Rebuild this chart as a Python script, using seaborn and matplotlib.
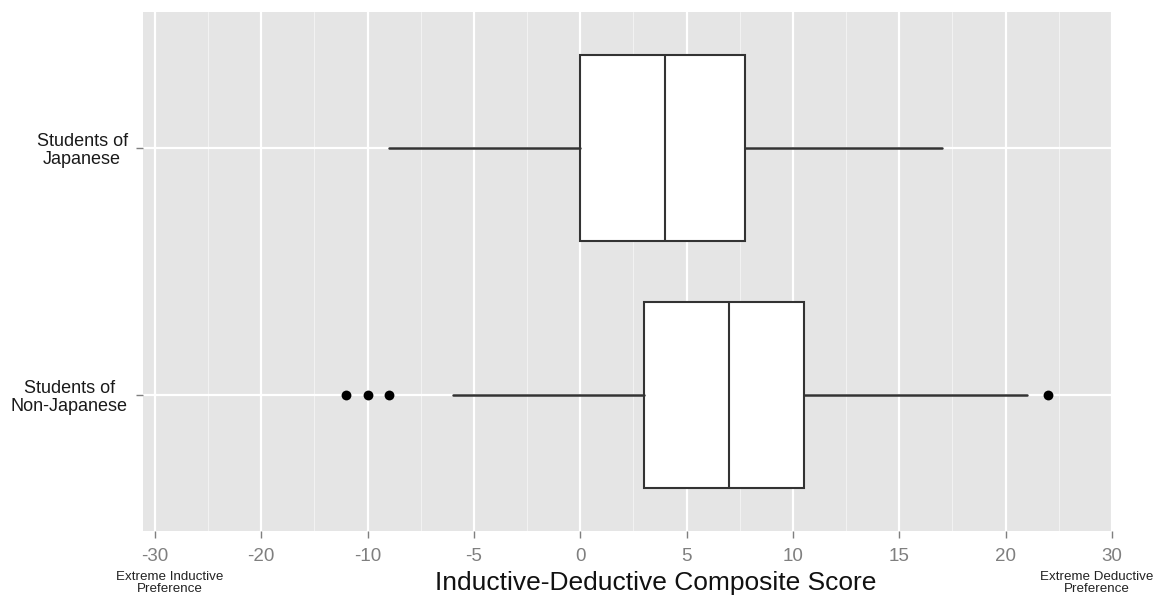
import matplotlib
matplotlib.use("Agg")
import matplotlib.pyplot as plt
import seaborn as sns
import pandas as pd

# ---- data ----
groups = ["Students of\nJapanese", "Students of\nNon-Japanese"]
q1 = [0.0, 3.0]
median = [4.0, 7.0]
q3 = [7.75, 10.5]
whisker_low = [-9.0, -6.0]
whisker_high = [17.0, 21.0]
outlier_group = ["Students of\nNon-Japanese"] * 4
outlier_values = [-11.0, -10.0, -9.0, 22.0]
tick_values = [-20, -15, -10, -5, 0, 5, 10, 15, 20, 25]
tick_labels = ["-30", "-20", "-10", "-5", "0", "5", "10", "15", "20", "30"]
x_title = "Inductive-Deductive Composite Score"
left_note = "Extreme Inductive\nPreference"
right_note = "Extreme Deductive\nPreference"

sns.set_theme(style="darkgrid")
plt.rcParams["font.family"] = ["Liberation Sans", "DejaVu Sans"]

W, H = 1157, 598
fig = plt.figure(figsize=(W / 100, H / 100), dpi=100)
ax = fig.add_axes([143 / W, (H - 531) / H, (1113 - 143) / W, (531 - 12) / H])
ax.set_facecolor("#E5E5E5")

ypos = {g: i for i, g in enumerate(reversed(groups))}  # Japanese on top
stats = []
for i, g in enumerate(groups):
    stats.append(dict(med=median[i], q1=q1[i], q3=q3[i],
                      whislo=whisker_low[i], whishi=whisker_high[i],
                      fliers=[], label=g))
line_col = "#333333"
ax.bxp(stats, positions=[ypos[g] for g in groups], widths=0.75,
       orientation="horizontal", patch_artist=True, showcaps=False,
       boxprops=dict(facecolor="white", edgecolor=line_col, linewidth=1.5),
       medianprops=dict(color=line_col, linewidth=1.5),
       whiskerprops=dict(color=line_col, linewidth=1.8),
       manage_ticks=False, zorder=3)

df_out = pd.DataFrame({"score": outlier_values,
                       "y": [ypos[g] for g in outlier_group]})
sns.scatterplot(data=df_out, x="score", y="y", ax=ax, color="black",
                s=50, edgecolor="black", linewidth=0, zorder=4, legend=False)

ax.set_xlim(-20.56, 25.05)
ax.set_ylim(-0.55, 1.55)
ax.set_xticks(tick_values)
ax.set_xticklabels(tick_labels)
ax.set_xticks([v + 2.5 for v in tick_values[:-1]], minor=True)
ax.set_yticks([ypos[g] for g in groups])
ax.set_yticklabels(groups)
for t in ax.get_yticklabels():
    t.set_multialignment("center")
    t.set_linespacing(1.05)

ax.grid(True, which="major", color="white", linewidth=1.6)
ax.grid(True, which="minor", axis="x", color="#F2F2F2", linewidth=0.8)
ax.set_axisbelow(True)
for s in ax.spines.values():
    s.set_visible(False)

ax.tick_params(axis="x", which="major", length=5, width=1, color="#7F7F7F",
               labelsize=13.5, labelcolor="#7F7F7F", pad=7, bottom=True)
ax.tick_params(axis="x", which="minor", length=0)
ax.tick_params(axis="y", length=5, width=1, color="#7F7F7F",
               labelsize=13, labelcolor="#1A1A1A", pad=6, left=True)
ax.set_xlabel("")
ax.set_ylabel("")

fig.text(656 / W, 1 - 590 / H, x_title, ha="center", va="baseline",
         fontsize=19, color="#111111")
fig.text(170 / W, 1 - 592 / H, left_note, ha="center", va="baseline",
         fontsize=9.6, color="#222222", multialignment="center", linespacing=1.05)
fig.text(1097 / W, 1 - 592 / H, right_note, ha="center", va="baseline",
         fontsize=9.6, color="#222222", multialignment="center", linespacing=1.05)

fig.savefig("out.png", dpi=100, facecolor="white")
